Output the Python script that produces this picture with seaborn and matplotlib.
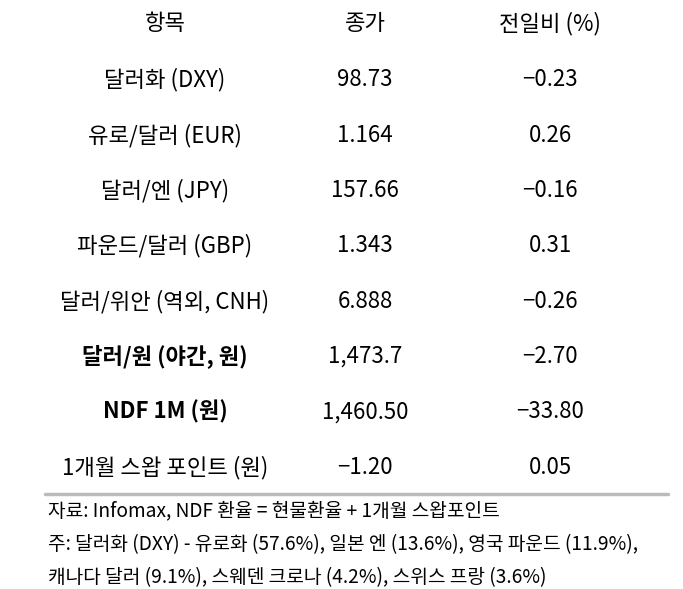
import matplotlib
matplotlib.use("Agg")
import matplotlib.pyplot as plt
import seaborn as sns

sns.set_theme(style="white")
plt.rcParams['font.family'] = ['Noto Sans CJK KR', 'DejaVu Sans']

headers = ["항목", "종가", "전일비 (%)"]
items = ["달러화 (DXY)", "유로/달러 (EUR)", "달러/엔 (JPY)", "파운드/달러 (GBP)",
         "달러/위안 (역외, CNH)", "달러/원 (야간, 원)", "NDF 1M (원)", "1개월 스왑 포인트 (원)"]
closes = ["98.73", "1.164", "157.66", "1.343", "6.888", "1,473.7", "1,460.50", "−1.20"]
changes = ["−0.23", "0.26", "−0.16", "0.31", "−0.26", "−2.70", "−33.80", "0.05"]
bold_rows = [5, 6]
notes = ["자료: Infomax, NDF 환율 = 현물환율 + 1개월 스왑포인트",
         "주: 달러화 (DXY) - 유로화 (57.6%), 일본 엔 (13.6%), 영국 파운드 (11.9%),",
         "캐나다 달러 (9.1%), 스웨덴 크로나 (4.2%), 스위스 프랑 (3.6%)"]

W, H = 683, 589
fig = plt.figure(figsize=(W/100, H/100), dpi=100)
ax = fig.add_axes([0, 0, 1, 1])
ax.set_xlim(0, W); ax.set_ylim(H, 0); ax.axis('off')

colx = [165, 365, 550]
for x, h in zip(colx, headers):
    ax.text(x, 24, h, ha='center', va='center', fontsize=16, color='black')
for i, (a, b, c) in enumerate(zip(items, closes, changes)):
    y = 80 + i * 55.3
    fw = 'bold' if i in bold_rows else 'normal'
    ax.text(colx[0], y, a, ha='center', va='center', fontsize=16, fontweight=fw, color='black')
    ax.text(colx[1], y, b, ha='center', va='center', fontsize=16, color='black')
    ax.text(colx[2], y, c, ha='center', va='center', fontsize=16, color='black')
ax.plot([45, 668], [494, 494], color='#bbbbbb', lw=2.5)
for j, n in enumerate(notes):
    ax.text(48, 511 + j * 33.5, n, ha='left', va='center', fontsize=13.8, color='black')
fig.savefig("out.png", dpi=100, facecolor='white')
